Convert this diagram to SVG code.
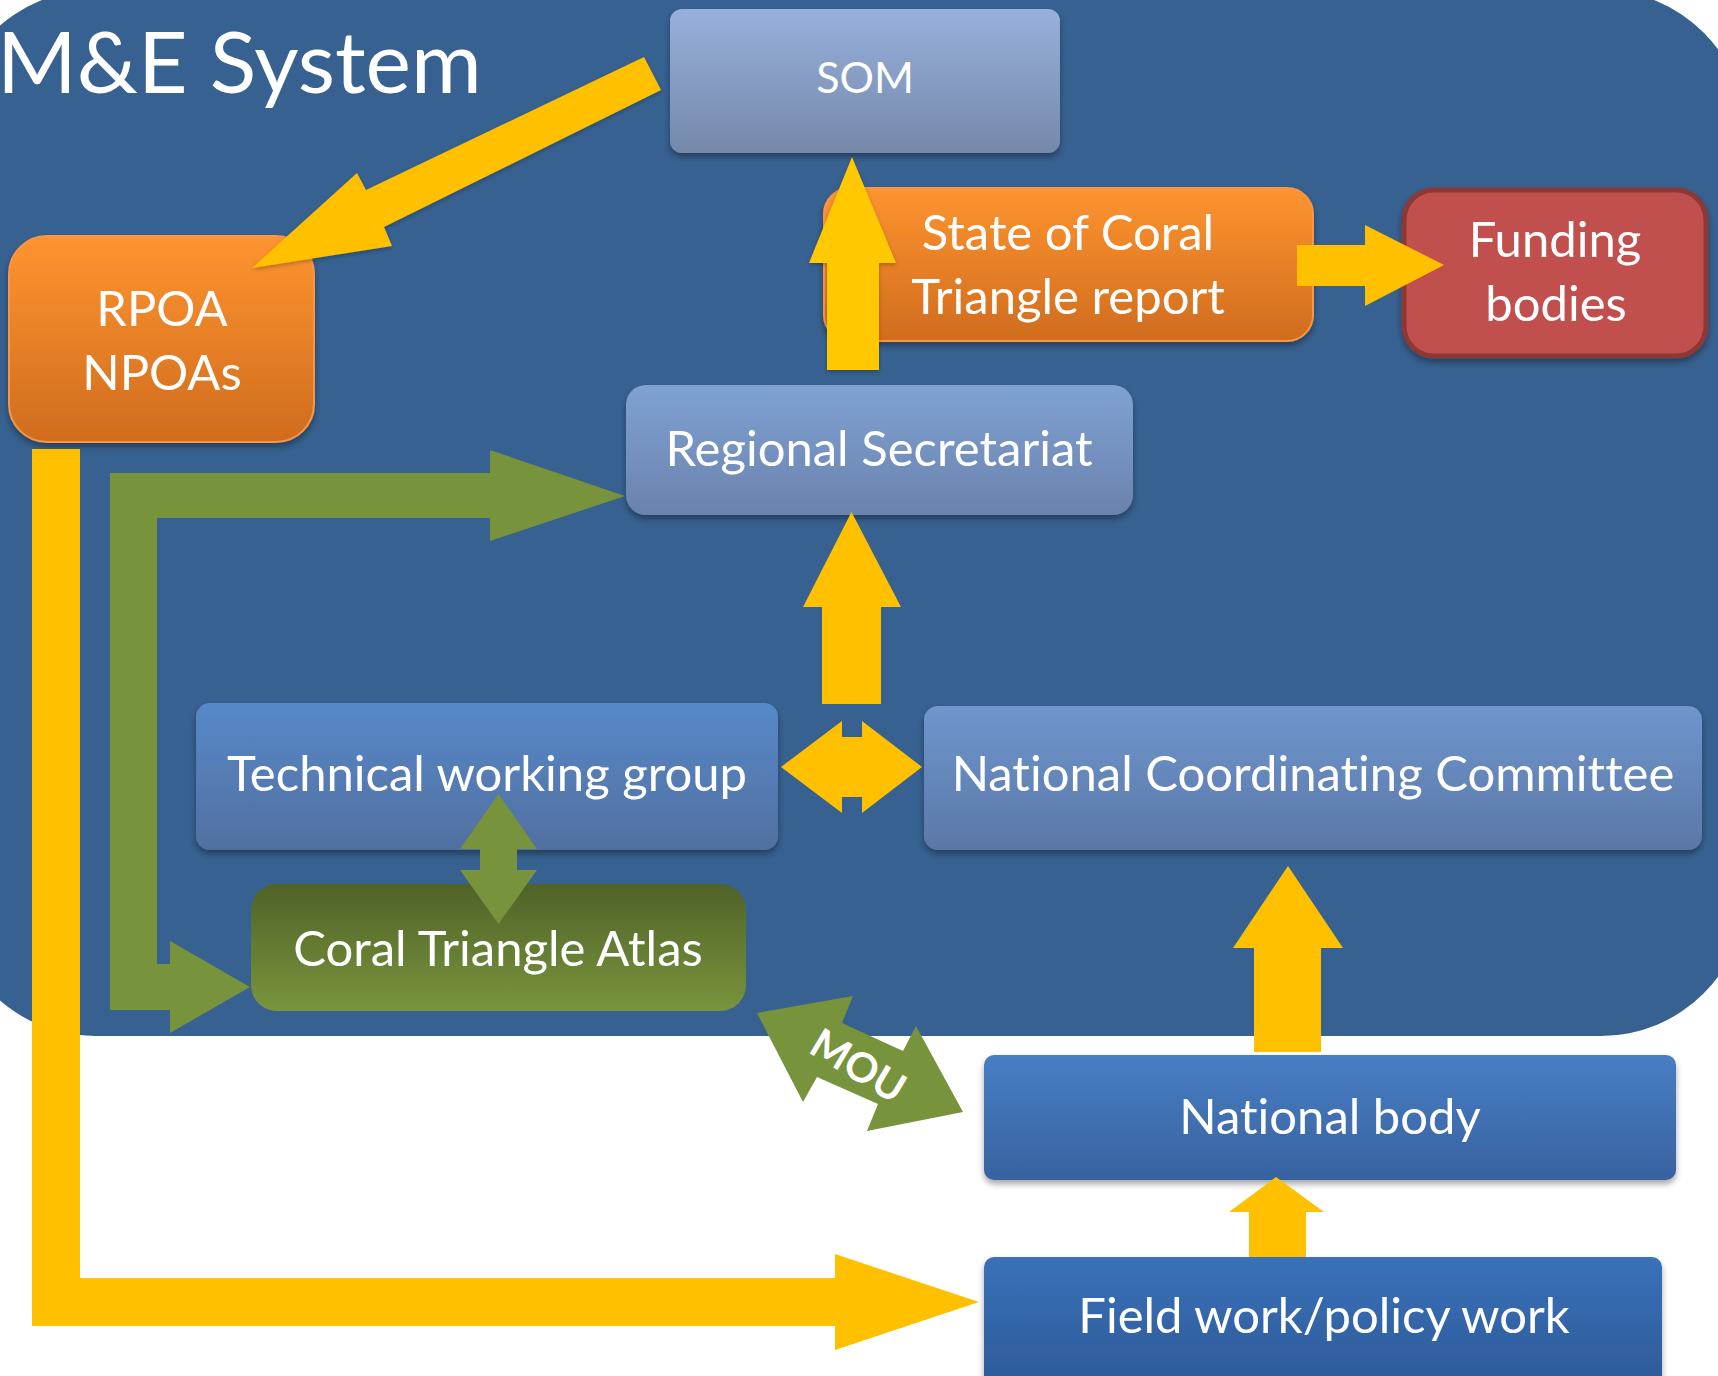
<svg xmlns="http://www.w3.org/2000/svg" width="1718" height="1376" viewBox="0 0 1718 1376">
<defs>
<linearGradient id="gSom" x1="0" y1="0" x2="0" y2="1"><stop offset="0" stop-color="#98b0dc"/><stop offset="1" stop-color="#7488aa"/></linearGradient>
<linearGradient id="gOrange" x1="0" y1="0" x2="0" y2="1"><stop offset="0" stop-color="#fe9430"/><stop offset="1" stop-color="#d06c1e"/></linearGradient>
<linearGradient id="gReg" x1="0" y1="0" x2="0" y2="1"><stop offset="0" stop-color="#80a1d3"/><stop offset="1" stop-color="#6a83ad"/></linearGradient>
<linearGradient id="gTwg" x1="0" y1="0" x2="0" y2="1"><stop offset="0" stop-color="#5788c9"/><stop offset="1" stop-color="#5170a0"/></linearGradient>
<linearGradient id="gNcc" x1="0" y1="0" x2="0" y2="1"><stop offset="0" stop-color="#6e96cd"/><stop offset="1" stop-color="#5b77a7"/></linearGradient>
<linearGradient id="gAtlas" x1="0" y1="0" x2="0" y2="1"><stop offset="0" stop-color="#4f6228"/><stop offset="1" stop-color="#79953d"/></linearGradient>
<linearGradient id="gNb" x1="0" y1="0" x2="0" y2="1"><stop offset="0" stop-color="#487ec4"/><stop offset="1" stop-color="#38629f"/></linearGradient>
<linearGradient id="gField" x1="0" y1="0" x2="0" y2="1"><stop offset="0" stop-color="#3a71b9"/><stop offset="1" stop-color="#2c5896"/></linearGradient>
<filter id="sh" x="-10%" y="-10%" width="120%" height="130%"><feDropShadow dx="0" dy="4" stdDeviation="3" flood-color="#000" flood-opacity="0.35"/></filter>
<filter id="sh2" x="-10%" y="-10%" width="120%" height="130%"><feDropShadow dx="0" dy="2" stdDeviation="2" flood-color="#000" flood-opacity="0.25"/></filter>
</defs>
<style>
text{font-family:Lato,"Open Sans","DejaVu Sans",sans-serif;fill:#fff;text-anchor:middle;font-variant-ligatures:none;font-feature-settings:"liga" 0}
.lbl{font-size:49px}
.yel{fill:#ffc000}
.grn{fill:#77933c}
</style>
<rect id="background" x="-50" y="-10" width="1796" height="1046" rx="145" fill="#376190"/>
<text x="-3" y="93" style="font-size:86px;text-anchor:start">M&amp;E System</text>

<g id="som"><rect x="670" y="9" width="390" height="144" rx="12" fill="url(#gSom)" filter="url(#sh)"/><text class="lbl" x="865" y="93" style="font-size:43px">SOM</text></g>
<g id="report"><rect x="824" y="188" width="489" height="153" rx="26" fill="url(#gOrange)" stroke="#f79646" stroke-width="2" filter="url(#sh)"/><text class="lbl" x="1068" y="250">State of Coral</text><text class="lbl" x="1068" y="314">Triangle report</text></g>
<g id="funding"><rect x="1404" y="190" width="302" height="166" rx="30" fill="#c0504d" stroke="#8c3836" stroke-width="5" filter="url(#sh)"/><text class="lbl" x="1555" y="257">Funding</text><text class="lbl" x="1556" y="321">bodies</text></g>
<g id="rpoa"><rect x="9" y="236" width="305" height="206" rx="38" fill="url(#gOrange)" stroke="#f79646" stroke-width="2" filter="url(#sh)"/><text class="lbl" x="162" y="326">RPOA</text><text class="lbl" x="162" y="390">NPOAs</text></g>
<g id="regional"><rect x="626" y="385" width="507" height="130" rx="20" fill="url(#gReg)" filter="url(#sh)"/><text class="lbl" x="879" y="466">Regional Secretariat</text></g>
<g id="twg"><rect x="196" y="703" width="582" height="147" rx="14" fill="url(#gTwg)" filter="url(#sh)"/><text class="lbl" x="487" y="791">Technical working group</text></g>
<g id="ncc"><rect x="924" y="706" width="778" height="144" rx="14" fill="url(#gNcc)" filter="url(#sh)"/><text class="lbl" x="1313" y="791">National Coordinating Committee</text></g>
<g id="atlas"><rect x="251" y="884" width="495" height="127" rx="26" fill="url(#gAtlas)"/><text class="lbl" x="498" y="966">Coral Triangle Atlas</text></g>
<g id="nationalbody"><rect x="984" y="1055" width="692" height="125" rx="10" fill="url(#gNb)" filter="url(#sh)"/><text class="lbl" x="1330" y="1134">National body</text></g>
<g id="fieldwork"><rect x="984" y="1257" width="678" height="140" rx="10" fill="url(#gField)" filter="url(#sh)"/><text class="lbl" x="1324" y="1333">Field work/policy work</text></g>

<g id="connectors">
<polygon class="yel" filter="url(#sh2)" points="644,57 661,90 384,227 392,246 252,268 357,173 366,190"/>
<polygon filter="url(#sh2)" fill="#ffc800" points="827,370 827,263 809,263 852,157 896,263 879,263 879,370"/>
<polygon class="yel" points="1297,245 1365,245 1365,225 1444,265 1365,306 1365,286 1297,286"/>
<polygon class="yel" points="32,449 80,449 80,1278 835,1278 835,1254 979,1302 835,1350 835,1326 32,1326"/>
<polygon class="grn" points="110,473 490,473 490,450 625,496 490,541 490,518 157,518 157,964 170,964 170,941 250,987 170,1033 170,1010 110,1010"/>
<polygon class="grn" points="498.5,794 537,849 517,849 517,870 537,870 498.5,924 460,870 480,870 480,849 460,849"/>
<polygon class="yel" points="822,704 822,607 803,607 851.5,512 901,607 881,607 881,704"/>
<polygon class="yel" points="781,767 842,721 842,737 862,737 862,721 922,767 862,813 862,797 842,797 842,813"/>
<polygon class="yel" points="1254,1052 1254,948 1233,948 1288,866 1343,948 1321,948 1321,1052"/>
<polygon class="yel" points="1249,1257 1249,1212 1229,1212 1276,1177 1324,1212 1306,1212 1306,1257"/>
<polygon class="grn" points="757,1013 853,996 842,1023 903,1051 916,1026 963,1112 867,1131 878,1104 817,1077 803,1102"/>
<text x="0" y="14" transform="translate(858,1066) rotate(31)" style="font-size:41px;font-weight:bold">MOU</text>
</g>
</svg>
